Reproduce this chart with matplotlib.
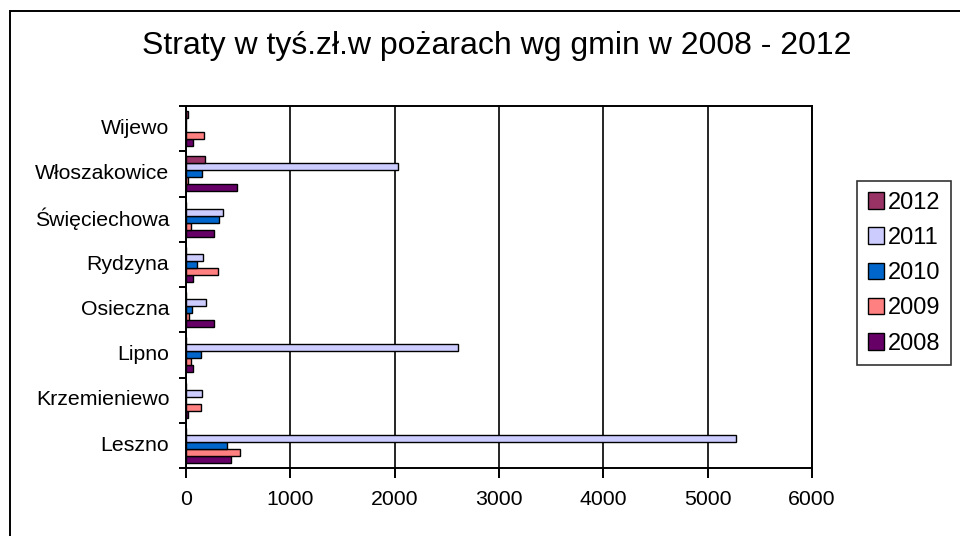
import numpy as np
import matplotlib
matplotlib.use("Agg")
import matplotlib.pyplot as plt
from matplotlib.patches import Rectangle

# ============================================ DATA ============================================
GMINY = ["Leszno", "Krzemieniewo", "Lipno", "Osieczna", "Rydzyna",
         "Święciechowa", "Włoszakowice", "Wijewo"]
YEARS = ["2008", "2009", "2010", "2011", "2012"]

STRATY_2008 = [429, 19, 70, 267, 70, 267, 487, 67]
STRATY_2009 = [518, 143, 51, 31, 305, 51, 20, 177]
STRATY_2010 = [394, 0, 143, 57, 105, 321, 158, 0]
STRATY_2011 = [5270, 158, 2611, 194, 159, 359, 2035, 0]
STRATY_2012 = [0, 0, 0, 0, 0, 0, 178, 20]

X_TICKS = [0, 1000, 2000, 3000, 4000, 5000, 6000]
TITLE = "Straty w tyś.zł.w pożarach wg gmin w 2008 - 2012"

# ============================================ STYLE ============================================
COLORS = {"2008": "#660066", "2009": "#FF8080", "2010": "#0066CC",
          "2011": "#CCCCFF", "2012": "#993366"}
FONT = "Liberation Sans"
TITLE_FONT_SIZE = 23
TICK_FONT_SIZE = 15.3
LEGEND_FONT_SIZE = 17
FIG_W, FIG_H, DPI = 9.6, 5.36, 100

plt.rcParams["font.family"] = [FONT, "DejaVu Sans"]

fig = plt.figure(figsize=(FIG_W, FIG_H), dpi=DPI)
# axes box in pixels: left 186, right 812, top 106, bottom 468
ax = fig.add_axes([186 / 960, 1 - 468 / 536, (812 - 186) / 960, (468 - 106) / 536])

# outer chart frame (only left + top visible in the crop)
fig.patches.append(Rectangle((10 / 960, -0.1), 1.2, 1 - 11 / 536 + 0.1,
                             transform=fig.transFigure, fill=False,
                             edgecolor="black", linewidth=1.4))

series = [STRATY_2008, STRATY_2009, STRATY_2010, STRATY_2011, STRATY_2012]
y = np.arange(len(GMINY))
bar_h = 1 / 6.5  # 5 bars + 150% gap

handles = []
for i, (year, vals) in enumerate(zip(YEARS, series)):
    offset = (i - 2) * bar_h
    b = ax.barh(y + offset, vals, height=bar_h, color=COLORS[year],
                edgecolor="black", linewidth=1.0, label=year, zorder=3)
    handles.append(b)

ax.set_xlim(0, 6000)
ax.set_ylim(-0.5, len(GMINY) - 0.5)
ax.set_xticks(X_TICKS)
ax.set_xticklabels([str(t) for t in X_TICKS], fontsize=TICK_FONT_SIZE)

# category boundary ticks, labels at centers (a touch above, like Excel)
ax.set_yticks(np.arange(-0.5, len(GMINY), 1.0))
ax.set_yticklabels([])
ax.set_yticks(y + 0.05, minor=True)
ax.set_yticklabels(GMINY, minor=True, fontsize=TICK_FONT_SIZE)
ax.tick_params(axis="y", which="major", length=5, width=1.4, direction="out")
ax.tick_params(axis="y", which="minor", length=0, pad=12)
ax.tick_params(axis="x", length=7, width=1.4, direction="out", pad=9)

ax.grid(True, axis="x", color="black", linewidth=1.2, zorder=1)
for side in ["left", "right", "top", "bottom"]:
    ax.spines[side].set_linewidth(1.4)
    ax.spines[side].set_color("black")

fig.text(497 / 960, 1 - 46 / 536, TITLE, fontsize=TITLE_FONT_SIZE,
         ha="center", va="center")

leg = fig.legend(handles[::-1], YEARS[::-1], loc="upper left",
                 bbox_to_anchor=(857 / 960, 1 - 181 / 536),
                 fontsize=LEGEND_FONT_SIZE, frameon=True, fancybox=False,
                 handlelength=0.7, handleheight=0.7, handletextpad=0.15,
                 labelspacing=0.56, borderpad=0.45, borderaxespad=0)
leg.get_frame().set_edgecolor("black")
leg.get_frame().set_linewidth(1.2)

fig.savefig("out.png", dpi=DPI)
